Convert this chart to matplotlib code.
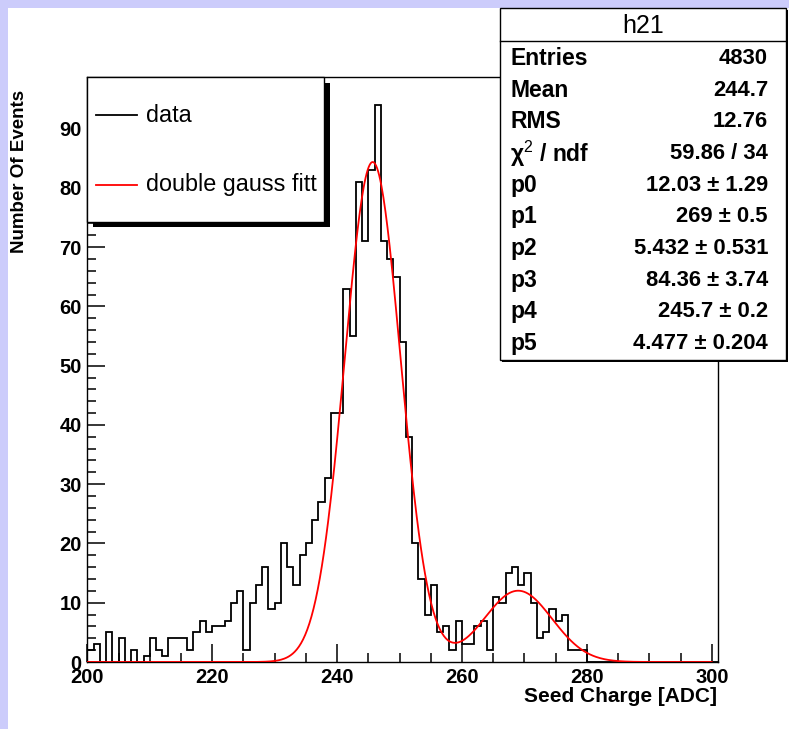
import numpy as np
import matplotlib
matplotlib.use("Agg")
import matplotlib.pyplot as plt
from matplotlib.patches import Rectangle
from matplotlib.lines import Line2D
from matplotlib.ticker import MultipleLocator

plt.rcParams['font.family'] = ['Liberation Sans', 'DejaVu Sans']
plt.rcParams['mathtext.fontset'] = 'custom'
plt.rcParams['mathtext.rm'] = 'Liberation Sans'
plt.rcParams['mathtext.it'] = 'Liberation Sans:italic'

# histogram h21: 1 ADC wide bins, first bin starts at 200
bin_low = 200
counts = [2, 3, 0, 5, 0, 4, 0, 2, 0, 1,
          4, 2, 1, 4, 4, 4, 2, 5, 7, 5,
          6, 6, 7, 10, 12, 2, 10, 13, 16, 9,
          10, 20, 16, 13, 18, 20, 24, 27, 31, 42,
          42, 63, 55, 81, 71, 83, 94, 71, 68, 65,
          54, 38, 20, 14, 8, 13, 5, 6, 2, 7,
          3, 3, 6, 7, 2, 11, 10, 15, 16, 13,
          15, 10, 4, 5, 9, 7, 8, 2, 2, 2,
          0, 0, 0, 0, 0, 0, 0, 0, 0, 0,
          0, 0, 0, 0, 0, 0, 0, 0, 0, 0, 0]

# double gauss fit parameters (p0..p5 from the stats box)
fit_par = [12.03, 269.0, 5.432, 84.36, 245.7, 4.477]

stat_names = ["Entries", "Mean", "RMS", r"χ$^{\mathrm{2}}$ / ndf", "p0", "p1", "p2", "p3", "p4", "p5"]
stat_values = ["4830", "244.7", "12.76", "59.86 / 34", "12.03 ± 1.29", "269 ± 0.5",
               "5.432 ± 0.531", "84.36 ± 3.74", "245.7 ± 0.2", "4.477 ± 0.204"]

W, H = 789, 729
fig = plt.figure(figsize=(W / 100, H / 100), dpi=100)
fig.patch.set_facecolor('#ccccfb')


def fx(x):
    return x / W


def fy(y):
    return 1 - y / H


# white canvas inside the lavender border
fig.add_artist(Rectangle((fx(8), 0), 1, fy(8), transform=fig.transFigure,
                         facecolor='white', edgecolor='none', zorder=-10))

ax = fig.add_axes([fx(87.3), fy(662), (718 - 87.3) / W, (662 - 77) / H])
edges = np.arange(bin_low, bin_low + len(counts) + 1)
ax.stairs(counts, edges, color='black', lw=1.3, baseline=0, zorder=2)

xf = np.linspace(200, 300, 600)
p = fit_par
yf = p[0] * np.exp(-0.5 * ((xf - p[1]) / p[2]) ** 2) + p[3] * np.exp(-0.5 * ((xf - p[4]) / p[5]) ** 2)
ax.plot(xf, yf, color='red', lw=1.3, zorder=3)

ax.set_xlim(200, 301)
ax.set_ylim(0, 98.7)
ax.xaxis.set_major_locator(MultipleLocator(20))
ax.xaxis.set_minor_locator(MultipleLocator(5))
ax.yaxis.set_major_locator(MultipleLocator(10))
ax.yaxis.set_minor_locator(MultipleLocator(2))
ax.tick_params(which='both', direction='in', top=False, right=False, width=1.1, colors='black')
ax.tick_params(which='major', length=13)
ax.tick_params(which='minor', length=6.5)
ax.tick_params(axis='y', pad=4, labelsize=14.5)
ax.tick_params(axis='x', pad=4, labelsize=14.5)
for lab in ax.get_xticklabels() + ax.get_yticklabels():
    lab.set_fontweight('bold')
for sp in ax.spines.values():
    sp.set_linewidth(1.0)

fig.text(fx(20), fy(90), "Number Of Events", rotation=90, ha='center', va='top',
         fontsize=13.5, fontweight='bold')
fig.text(fx(717), fy(697), "Seed Charge [ADC]", ha='right', va='center',
         fontsize=15, fontweight='bold')

# legend box with ROOT-like shadow
fig.add_artist(Rectangle((fx(93), fy(227)), (330 - 93) / W, (227 - 83) / H,
                         transform=fig.transFigure, facecolor='black', edgecolor='none', zorder=5))
fig.add_artist(Rectangle((fx(87.3), fy(222)), (324 - 87.3) / W, (222 - 77) / H,
                         transform=fig.transFigure, facecolor='white', edgecolor='black',
                         lw=1.0, zorder=6))
fig.add_artist(Line2D([fx(96), fx(137)], [fy(115), fy(115)], color='black', lw=1.3,
                      transform=fig.transFigure, zorder=7))
fig.add_artist(Line2D([fx(96), fx(137)], [fy(185), fy(185)], color='red', lw=1.3,
                      transform=fig.transFigure, zorder=7))
fig.text(fx(146), fy(115), "data", ha='left', va='center', fontsize=16.8, zorder=7)
fig.text(fx(146), fy(185), "double gauss fitt", ha='left', va='center', fontsize=16.8, zorder=7)

# stats box
fig.add_artist(Rectangle((fx(502), fy(362)), (788 - 502) / W, (362 - 10) / H,
                         transform=fig.transFigure, facecolor='black', edgecolor='none', zorder=5))
fig.add_artist(Rectangle((fx(500), fy(360)), (786 - 500) / W, (360 - 8) / H,
                         transform=fig.transFigure, facecolor='white', edgecolor='black',
                         lw=1.0, zorder=6))
fig.add_artist(Line2D([fx(500), fx(786)], [fy(41), fy(41)], color='black', lw=1.0,
                      transform=fig.transFigure, zorder=7))
fig.text(fx(643), fy(26), "h21", ha='center', va='center', fontsize=18, zorder=7)
row_y0, row_dy = 58.5, 31.65
for i, (name, val) in enumerate(zip(stat_names, stat_values)):
    yy = fy(row_y0 + i * row_dy)
    fig.text(fx(510), yy, name, ha='left', va='center', fontsize=16.5,
             fontweight='bold', zorder=7)
    fig.text(fx(768), yy, val, ha='right', va='center', fontsize=15.8,
             fontweight='bold', zorder=7)

fig.savefig("out.png", dpi=100)
